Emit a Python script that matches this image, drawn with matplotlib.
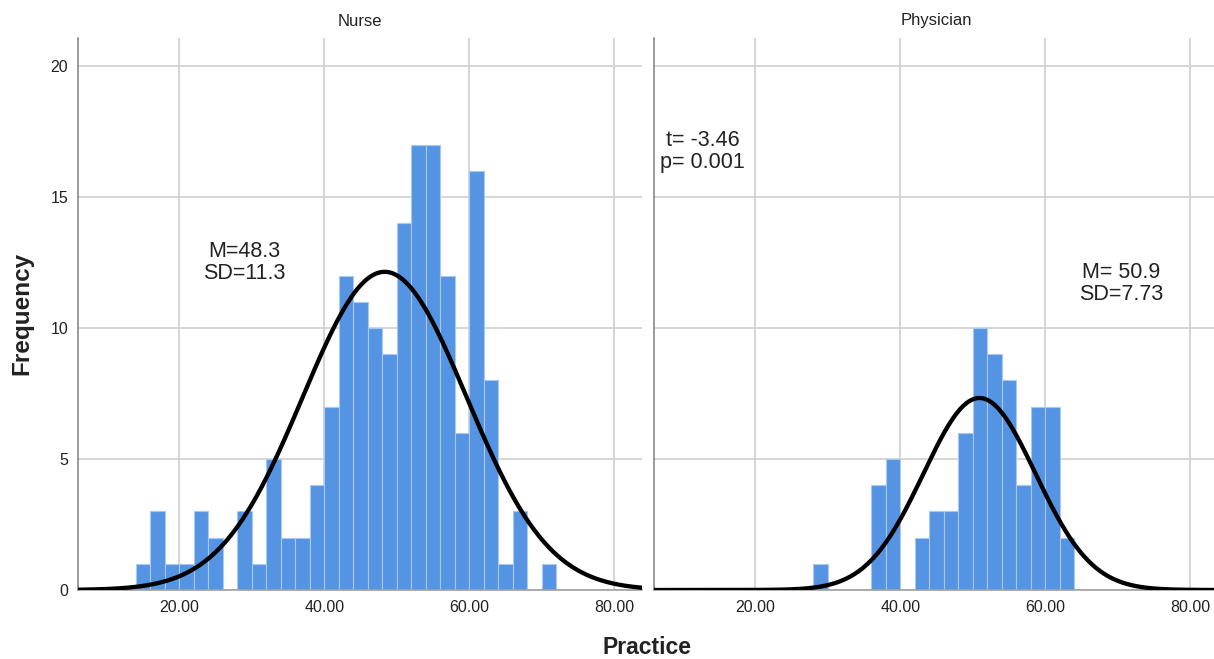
import numpy as np
import matplotlib
matplotlib.use("Agg")
import matplotlib.pyplot as plt

plt.rcParams['font.family'] = ['Liberation Sans', 'DejaVu Sans']

# ---- data ----
panels = ["Nurse", "Physician"]
bin_width = 2
nurse_bin_left = [14, 16, 18, 20, 22, 24, 26, 28, 30, 32, 34, 36, 38, 40, 42, 44,
                  46, 48, 50, 52, 54, 56, 58, 60, 62, 64, 66, 68, 70]
nurse_counts = [1, 3, 1, 1, 3, 2, 0, 3, 1, 5, 2, 2, 4, 7, 12, 11,
                10, 9, 14, 17, 17, 12, 6, 16, 8, 1, 3, 0, 1]
phys_bin_left = [28, 30, 32, 34, 36, 38, 40, 42, 44, 46, 48, 50, 52, 54, 56, 58, 60, 62]
phys_counts = [1, 0, 0, 0, 4, 5, 0, 2, 3, 3, 6, 10, 9, 8, 4, 7, 7, 2]
nurse_mean, nurse_sd = 48.3, 11.3
phys_mean, phys_sd = 50.9, 7.73
x_ticks = [20, 40, 60, 80]
x_tick_labels = ["20.00", "40.00", "60.00", "80.00"]
y_ticks = [0, 5, 10, 15, 20]
nurse_note = "M=48.3\nSD=11.3"
phys_note = "M= 50.9\nSD=7.73"
test_note = "t= -3.46\np= 0.001"

BAR = "#5594E3"
GRID = "#D2D2D2"
TXT = "#222222"

W, H = 1214, 659
fig = plt.figure(figsize=(W / 100, H / 100), dpi=100)

def px_axes(x0, x1, y_top, y_bot):
    return fig.add_axes([x0 / W, (H - y_bot) / H, (x1 - x0) / W, (y_bot - y_top) / H])

ax1 = px_axes(78, 642, 38, 590)
ax2 = px_axes(654, 1218, 38, 590)

xlim = (6.0, 83.8)
ylim = (0, 21.07)
xs = np.linspace(xlim[0], xlim[1], 600)

def draw(ax, lefts, counts, mean, sd, title):
    ax.set_xlim(*xlim)
    ax.set_ylim(*ylim)
    ax.bar(lefts, counts, width=bin_width, align='edge', color=BAR,
           edgecolor="#A9C8F0", linewidth=0.8, zorder=2)
    n = sum(counts)
    ys = n * bin_width / (sd * np.sqrt(2 * np.pi)) * np.exp(-0.5 * ((xs - mean) / sd) ** 2)
    ax.plot(xs, ys, color="black", lw=3.1, zorder=3, solid_capstyle='round')
    ax.set_xticks(x_ticks)
    ax.set_xticklabels(x_tick_labels)
    ax.set_yticks(y_ticks)
    ax.grid(True, color=GRID, lw=1.3, zorder=0)
    ax.set_axisbelow(True)
    ax.tick_params(length=0, labelsize=11.5, colors=TXT, pad=7)
    for s in ("top", "right"):
        ax.spines[s].set_visible(False)
    ax.spines["left"].set_color("#8A8A8A")
    ax.spines["left"].set_linewidth(1.2)
    ax.spines["bottom"].set_color("#A0A0A0")
    ax.spines["bottom"].set_linewidth(1.2)
    ax.set_title(title, fontsize=12, color=TXT, pad=9)

draw(ax1, nurse_bin_left, nurse_counts, nurse_mean, nurse_sd, panels[0])
draw(ax2, phys_bin_left, phys_counts, phys_mean, phys_sd, panels[1])
ax2.tick_params(labelleft=False)

note_kw = dict(ha='center', va='center', fontsize=15.5, color=TXT,
               linespacing=1.05, zorder=4)
ax1.text(29.0, 12.5, nurse_note, **note_kw)
ax2.text(70.4, 11.7, phys_note, **note_kw)
ax2.text(12.7, 16.74, test_note, **note_kw)

fig.text(22 / W, 1 - 313 / H, "Frequency", rotation=90, ha='center', va='center',
         fontsize=17.5, fontweight='bold', color=TXT)
fig.text(647 / W, 1 - 648 / H, "Practice", ha='center', va='center',
         fontsize=16.5, fontweight='bold', color=TXT)

fig.savefig("out.png", dpi=100)
